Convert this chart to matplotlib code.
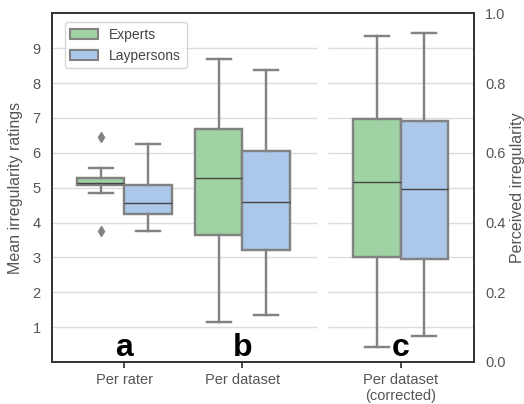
import numpy as np
import matplotlib
matplotlib.use("Agg")
import matplotlib.pyplot as plt
from matplotlib.patches import Patch

plt.rcParams['font.family'] = ['Liberation Sans', 'DejaVu Sans']
plt.rcParams['font.size'] = 10.5

# categories
groups = ["Per rater", "Per dataset", "Per dataset\n(corrected)"]
group_pos = [0, 1, 2.34]
panel_letters = ["a", "b", "c"]

# experts (a, b on left scale, c on right scale)
experts_whislo = [4.84, 1.15, 0.042]
experts_q1 = [5.07, 3.63, 0.301]
experts_med = [5.14, 5.29, 0.517]
experts_q3 = [5.27, 6.68, 0.698]
experts_whishi = [5.55, 8.68, 0.934]
experts_fliers = [[6.44, 3.77], [], []]

# laypersons
lay_whislo = [3.76, 1.34, 0.074]
lay_q1 = [4.24, 3.20, 0.295]
lay_med = [4.57, 4.58, 0.495]
lay_q3 = [5.09, 6.04, 0.691]
lay_whishi = [6.25, 8.37, 0.944]
lay_fliers = [[], [], []]

c_green = "#a0d3a4"
c_blue = "#abc8ea"
edge = "#828282"


def make_stats(lo, q1, med, q3, hi, fl):
    return [dict(whislo=lo[i], q1=q1[i], med=med[i], q3=q3[i], whishi=hi[i],
                 fliers=fl[i]) for i in range(len(lo))]


exp_stats = make_stats(experts_whislo, experts_q1, experts_med, experts_q3, experts_whishi, experts_fliers)
lay_stats = make_stats(lay_whislo, lay_q1, lay_med, lay_q3, lay_whishi, lay_fliers)

fig = plt.figure(figsize=(5.24, 4.04), dpi=100)
ax = fig.add_axes([0.0992, 0.104, 0.9046 - 0.0992, 0.967 - 0.104])
ax2 = ax.twinx()

xlim = (-0.614, 2.962)
width = 0.4


def draw(axis, stats, positions, color):
    axis.bxp(stats, positions=positions, widths=width, patch_artist=True,
             boxprops=dict(facecolor=color, edgecolor=edge, linewidth=1.75),
             whiskerprops=dict(color=edge, linewidth=1.75),
             capprops=dict(color=edge, linewidth=1.75),
             medianprops=dict(color="#444444", linewidth=1.0),
             flierprops=dict(marker="d", markerfacecolor=edge, markeredgecolor=edge,
                             markersize=5),
             manage_ticks=False, zorder=3)


# a, b on the left axis
draw(ax, exp_stats[:2], [p - 0.2 for p in group_pos[:2]], c_green)
draw(ax, lay_stats[:2], [p + 0.2 for p in group_pos[:2]], c_blue)
# c on the right axis
draw(ax2, exp_stats[2:], [group_pos[2] - 0.2], c_green)
draw(ax2, lay_stats[2:], [group_pos[2] + 0.2], c_blue)

# grid with a small gap between the two parts
gridy = np.arange(1, 10)
ax.hlines(gridy, xlim[0], 1.629, color="#dcdcdc", lw=1, zorder=0)
ax.hlines(gridy, 1.727, xlim[1], color="#dcdcdc", lw=1, zorder=0)

ax.set_xlim(*xlim)
ax.set_ylim(0, 10)
ax.set_yticks(gridy)
ax2.set_ylim(0, 1)
ax2.set_yticks(np.arange(0, 1.01, 0.2))
ax2.set_yticklabels(["%.1f" % v for v in np.arange(0, 1.01, 0.2)])

ax.set_xticks(group_pos)
ax.set_xticklabels(groups, color="#555555")
ax.tick_params(axis="x", length=4, width=1.25, color="#333333", pad=4)
ax.tick_params(axis="y", length=0, pad=8, labelcolor="#555555")
ax2.tick_params(axis="y", length=0, pad=8, labelcolor="#555555")

ax.set_ylabel("Mean irregularity ratings", color="#555555", fontsize=11.5, labelpad=7)
ax2.set_ylabel("Perceived irregularity", color="#555555", fontsize=11.5, labelpad=3)

for a_ in (ax, ax2):
    for s in a_.spines.values():
        s.set_color("#333333")
        s.set_linewidth(1.25)

for i, p in enumerate(group_pos):
    ax.text(p, 0.17, panel_letters[i], ha="center", va="baseline",
            fontsize=23, fontweight="bold", color="black", zorder=5)

handles = [Patch(facecolor=c_green, edgecolor=edge, linewidth=1.5, label="Experts"),
           Patch(facecolor=c_blue, edgecolor=edge, linewidth=1.5, label="Laypersons")]
leg = ax2.legend(handles=handles, loc="upper left", bbox_to_anchor=(0.03, 0.975),
                 frameon=True, fancybox=True, borderaxespad=0.0, fontsize=10)
leg.get_frame().set_edgecolor("#cccccc")
for t in leg.get_texts():
    t.set_color("#444444")

plt.savefig("out.png", dpi=100)
